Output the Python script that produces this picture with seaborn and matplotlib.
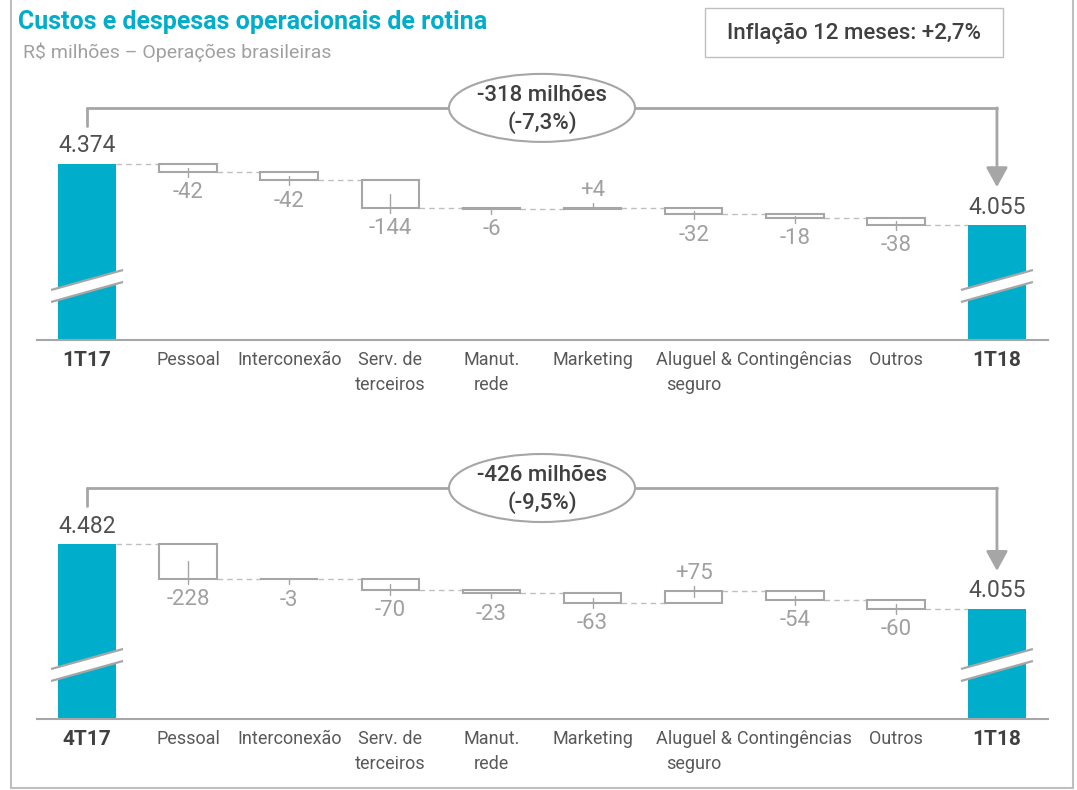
import numpy as np
import pandas as pd
import matplotlib
matplotlib.use("Agg")
import matplotlib.pyplot as plt
import seaborn as sns
from matplotlib.patches import Ellipse, Rectangle, FancyArrowPatch, Polygon
from matplotlib.lines import Line2D

# ---------------- data ----------------
categories = ["Pessoal", "Interconexão", "Serv. de\nterceiros", "Manut.\nrede",
              "Marketing", "Aluguel &\nseguro", "Contingências", "Outros"]
start_labels = ["1T17", "4T17"]
end_label = "1T18"
start_values = [4374, 4482]
end_values = [4055, 4055]
deltas_top = [-42, -42, -144, -6, 4, -32, -18, -38]
deltas_bottom = [-228, -3, -70, -23, -63, 75, -54, -60]
change_labels = ["-318 milhões\n(-7,3%)", "-426 milhões\n(-9,5%)"]
title = "Custos e despesas operacionais de rotina"
subtitle = "R$ milhões – Operações brasileiras"
inflation = "Inflação 12 meses: +2,7%"

# ---------------- style ----------------
sns.set_style("white")
plt.rcParams["font.family"] = ["Roboto", "DejaVu Sans"]

CYAN = "#00AECB"
GRAY = "#A6A6A6"
LIGHT = "#BFBFBF"
VAL = "#A0A0A0"
DARK = "#404040"
TICK = "#595959"

W, H = 1077, 790
fig = plt.figure(figsize=(W / 100, H / 100), dpi=100)

def fx(p):
    return p / W

def fy(p):
    return 1 - p / H

AX_LEFT, AX_RIGHT = 36.5, 1047.5
AX_H = 270
BAR_W = 0.57

def panel(ax_top_px, start_label, start, deltas, end, ylim, change_text):
    ax = fig.add_axes([fx(AX_LEFT), fy(ax_top_px + AX_H), fx(AX_RIGHT - AX_LEFT), AX_H / H])
    ppu = AX_H / (ylim[1] - ylim[0])

    def px(n):
        return n / ppu

    labels = [start_label] + categories + [end_label]
    df = pd.DataFrame({"cat": labels,
                       "val": [start] + [np.nan] * len(categories) + [end]})
    sns.barplot(data=df, x="cat", y="val", order=labels, color=CYAN, saturation=1,
                width=BAR_W, errorbar=None, linewidth=0, ax=ax, zorder=2)

    running = start
    prev_x = 0
    for i, d in enumerate(deltas):
        x = i + 1
        new = running + d
        lo, hi = min(running, new), max(running, new)
        # dashed connector
        ax.plot([prev_x + BAR_W / 2, x - BAR_W / 2], [running, running],
                color=LIGHT, lw=1, ls=(0, (4, 3)), zorder=1)
        ax.bar(x, hi - lo, bottom=lo, width=BAR_W, facecolor="white",
               edgecolor=GRAY, linewidth=1.5, zorder=3)
        mid = (lo + hi) / 2
        if d < 0:
            ax.plot([x, x], [mid, lo - px(5)], color=GRAY, lw=1, zorder=4)
            ax.annotate(f"{d}", xy=(x, lo), xytext=(0, -21), textcoords="offset pixels",
                        ha="center", va="center", fontsize=16, color=VAL)
        else:
            ax.plot([x, x], [mid, hi + px(5)], color=GRAY, lw=1, zorder=4)
            ax.annotate(f"+{d}", xy=(x, hi), xytext=(0, 18), textcoords="offset pixels",
                        ha="center", va="center", fontsize=16, color=VAL)
        running = new
        prev_x = x
    last_x = len(deltas) + 1
    ax.plot([prev_x + BAR_W / 2, last_x - BAR_W / 2], [running, running],
            color=LIGHT, lw=1, ls=(0, (4, 3)), zorder=1)

    # total labels
    for x, v in [(0, start), (last_x, end)]:
        ax.annotate(f"{v:,}".replace(",", "."), xy=(x, v), xytext=(0, 18),
                    textcoords="offset pixels", ha="center", va="center",
                    fontsize=16.5, color="#505050")

    # axis break marks
    dx = 36 / 101.1
    for x in (0, last_x):
        yc = ylim[0] + px(54)
        up = [(x - dx, yc + px(6) - px(10)), (x + dx, yc + px(6) + px(10))]
        dn = [(x - dx, yc - px(6) - px(10)), (x + dx, yc - px(6) + px(10))]
        ax.add_patch(Polygon([up[0], up[1], dn[1], dn[0]], closed=True,
                             facecolor="white", edgecolor="none", zorder=5))
        for seg in (up, dn):
            ax.plot([seg[0][0], seg[1][0]], [seg[0][1], seg[1][1]],
                    color=GRAY, lw=1.6, zorder=6, solid_capstyle="butt")

    # bracket with ellipse and arrow
    y_br = start + px(56)
    ax.plot([0, 0], [start + px(38), y_br], color=GRAY, lw=2, zorder=6, clip_on=False)
    ax.plot([0, last_x], [y_br, y_br], color=GRAY, lw=2, zorder=6, clip_on=False)
    arr = FancyArrowPatch((last_x, y_br), (last_x, end + px(38)),
                          arrowstyle="-|>,head_length=0.4,head_width=0.22",
                          mutation_scale=30, color=GRAY, lw=2,
                          shrinkA=0, shrinkB=0, zorder=6, clip_on=False)
    ax.add_patch(arr)
    cx = 4.5
    ax.add_patch(Ellipse((cx, y_br), width=186 / 101.1, height=px(68),
                         facecolor="white", edgecolor=GRAY, lw=1.5, zorder=7, clip_on=False))
    ax.text(cx, y_br - px(1.5), change_text, ha="center", va="center", fontsize=16,
            fontweight="medium", color=DARK, linespacing=1.25, zorder=8)

    ax.set_xlim(-0.5, last_x + 0.5)
    ax.set_ylim(*ylim)
    ax.set_xlabel("")
    ax.set_ylabel("")
    ax.set_yticks([])
    for s in ("top", "right", "left"):
        ax.spines[s].set_visible(False)
    ax.spines["bottom"].set_color(GRAY)
    ax.spines["bottom"].set_linewidth(1.5)
    ax.tick_params(axis="x", length=0, pad=8)
    ax.set_xticks(range(len(labels)))
    ax.set_xticklabels(labels, linespacing=1.5)
    for j, t in enumerate(ax.get_xticklabels()):
        if j in (0, len(labels) - 1):
            t.set_fontsize(15)
            t.set_fontweight("bold")
            t.set_color(DARK)
        else:
            t.set_fontsize(13)
            t.set_color(TICK)
        t.set_verticalalignment("top")
    return ax

panel(70, start_labels[0], start_values[0], deltas_top, end_values[0], (3457, 4863), change_labels[0])
panel(449, start_labels[1], start_values[1], deltas_bottom, end_values[1], (3331, 5107), change_labels[1])

# header texts
fig.text(fx(18), fy(22), title, fontsize=18, fontweight="bold", color=CYAN,
         ha="left", va="center")
fig.text(fx(23), fy(52), subtitle, fontsize=14, color=VAL, ha="left", va="center")
fig.add_artist(Rectangle((fx(705), fy(57)), fx(298), 49 / H, transform=fig.transFigure,
                         facecolor="white", edgecolor=LIGHT, lw=1))
fig.text(fx(854), fy(33), inflation, fontsize=16, fontweight="medium", color=DARK,
         ha="center", va="center")

# outer frame
for (x0, y0, x1, y1) in [(11, 0, 11, 788), (1073, 0, 1073, 788), (11, 788, 1073, 788)]:
    fig.add_artist(Line2D([fx(x0), fx(x1)], [fy(y0), fy(y1)], transform=fig.transFigure,
                          color=LIGHT, lw=1.5))

fig.savefig("out.png", dpi=100)
